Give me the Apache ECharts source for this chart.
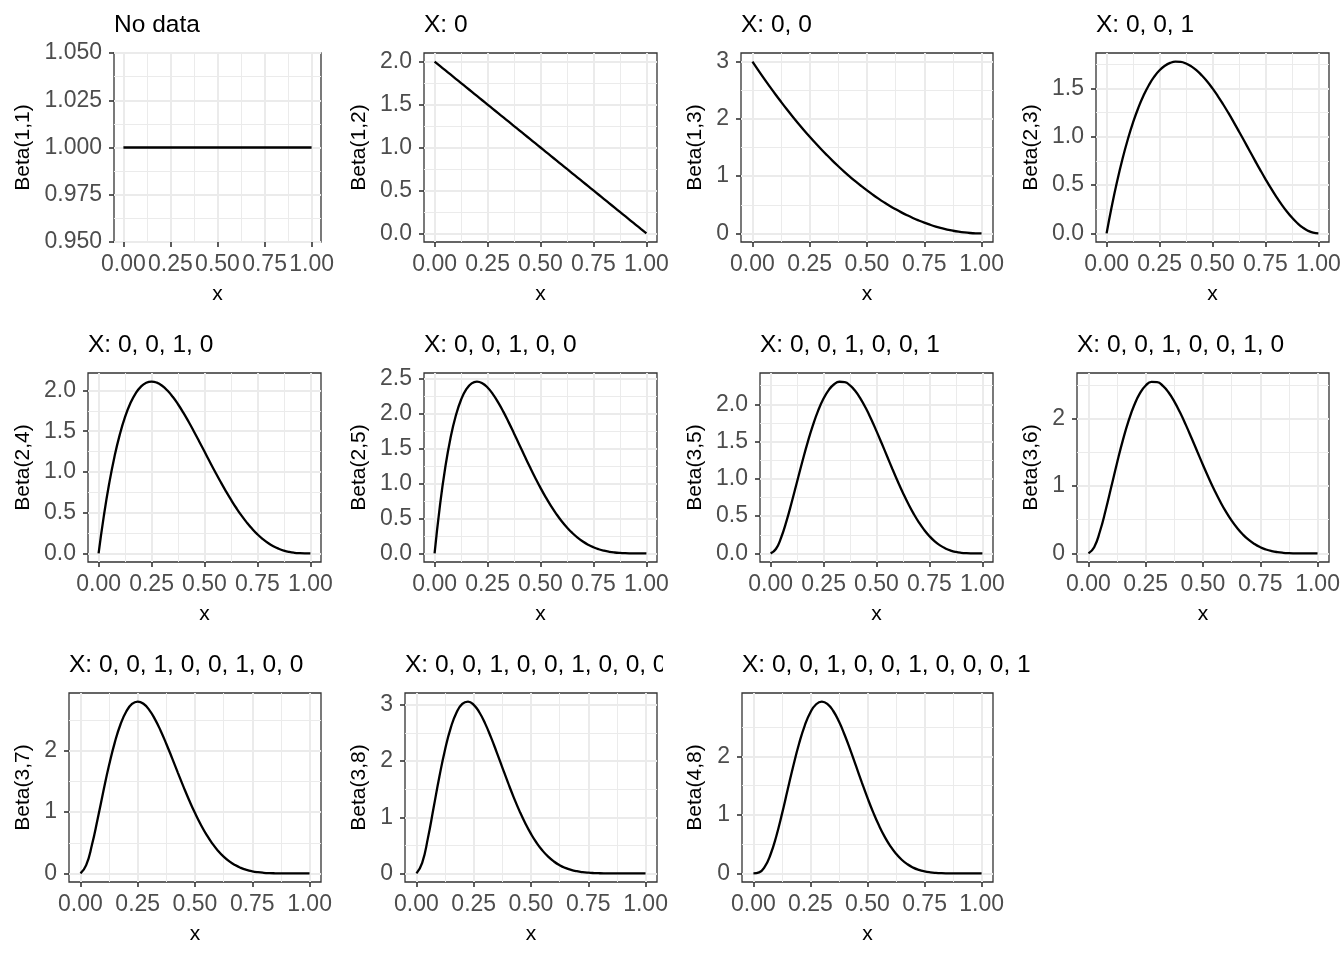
<!DOCTYPE html>
<html>
<head>
<meta charset="utf-8">
<script src="https://cdn.jsdelivr.net/npm/echarts@6/dist/echarts.min.js"></script>
<style>
  html, body { margin: 0; padding: 0; background: #ffffff; }
  #chart { width: 1344px; height: 960px; }
</style>
</head>
<body>
<div id="chart"></div>
<script>
// x grid shared by every density curve (step 0.025)
var xs = [0, 0.025, 0.05, 0.075, 0.1, 0.125, 0.15, 0.175, 0.2, 0.225, 0.25, 0.275, 0.3, 0.325, 0.35, 0.375, 0.4, 0.425, 0.45, 0.475,
  0.5, 0.525, 0.55, 0.575, 0.6, 0.625, 0.65, 0.675, 0.7, 0.725, 0.75, 0.775, 0.8, 0.825, 0.85, 0.875, 0.9, 0.925, 0.95, 0.975, 1];

// density values
var beta11 = [1, 1, 1, 1, 1, 1, 1, 1, 1, 1, 1, 1, 1, 1, 1, 1, 1, 1, 1, 1, 1, 1, 1, 1, 1, 1, 1, 1, 1, 1, 1, 1, 1, 1, 1, 1, 1, 1, 1, 1, 1];
var beta12 = [2, 1.95, 1.9, 1.85, 1.8, 1.75, 1.7, 1.65, 1.6, 1.55, 1.5, 1.45, 1.4, 1.35, 1.3, 1.25, 1.2, 1.15, 1.1, 1.05,
  1, 0.95, 0.9, 0.85, 0.8, 0.75, 0.7, 0.65, 0.6, 0.55, 0.5, 0.45, 0.4, 0.35, 0.3, 0.25, 0.2, 0.15, 0.1, 0.05, 0];
var beta13 = [3, 2.8519, 2.7075, 2.5669, 2.43, 2.2969, 2.1675, 2.0419, 1.92, 1.8019, 1.6875, 1.5769, 1.47, 1.3669, 1.2675, 1.1719, 1.08, 0.9919, 0.9075, 0.8269,
  0.75, 0.6769, 0.6075, 0.5419, 0.48, 0.4219, 0.3675, 0.3169, 0.27, 0.2269, 0.1875, 0.1519, 0.12, 0.0919, 0.0675, 0.0469, 0.03, 0.0169, 0.0075, 0.0019, 0];
var beta23 = [0, 0.2852, 0.5415, 0.7701, 0.972, 1.1484, 1.3005, 1.4293, 1.536, 1.6217, 1.6875, 1.7346, 1.764, 1.7769, 1.7745, 1.7578, 1.728, 1.6862, 1.6335, 1.5711,
  1.5, 1.4214, 1.3365, 1.2463, 1.152, 1.0547, 0.9555, 0.8556, 0.756, 0.6579, 0.5625, 0.4708, 0.384, 0.3032, 0.2295, 0.1641, 0.108, 0.0624, 0.0285, 0.0073, 0];
var beta24 = [0, 0.4634, 0.8574, 1.1872, 1.458, 1.6748, 1.8424, 1.9653, 2.048, 2.0947, 2.1094, 2.0959, 2.058, 1.9991, 1.9224, 1.8311, 1.728, 1.6159, 1.4974, 1.3747,
  1.25, 1.1253, 1.0024, 0.8828, 0.768, 0.6592, 0.5574, 0.4634, 0.378, 0.3016, 0.2344, 0.1766, 0.128, 0.0884, 0.0574, 0.0342, 0.018, 0.0078, 0.0024, 0.0003, 0];
var beta25 = [0, 0.6778, 1.2218, 1.6472, 1.9683, 2.1982, 2.349, 2.4321, 2.4576, 2.4351, 2.373, 2.2793, 2.1609, 2.024, 1.8743, 1.7166, 1.5552, 1.3937, 1.2353, 1.0826,
  0.9375, 0.8018, 0.6766, 0.5628, 0.4608, 0.3708, 0.2926, 0.2259, 0.1701, 0.1244, 0.0879, 0.0596, 0.0384, 0.0232, 0.0129, 0.0064, 0.0027, 0.0009, 0.0002, 0, 0];
var beta35 = [0, 0.0593, 0.2138, 0.4324, 0.6889, 0.9617, 1.2332, 1.4896, 1.7203, 1.9176, 2.0764, 2.1939, 2.2689, 2.3023, 2.296, 2.253, 2.1773, 2.0732, 1.9457, 1.7998,
  1.6406, 1.4733, 1.3025, 1.1326, 0.9677, 0.8111, 0.6657, 0.5337, 0.4167, 0.3156, 0.2307, 0.1616, 0.1075, 0.067, 0.0384, 0.0196, 0.0085, 0.0028, 0.0006, 0, 0];
var beta36 = [0, 0.0925, 0.325, 0.6399, 0.992, 1.3464, 1.6772, 1.9663, 2.202, 2.3778, 2.4917, 2.5449, 2.5412, 2.4865, 2.3879, 2.253, 2.0902, 1.9073, 1.7122, 1.5118,
  1.3125, 1.1197, 0.9378, 0.7702, 0.6193, 0.4867, 0.3728, 0.2776, 0.2, 0.1389, 0.0923, 0.0582, 0.0344, 0.0188, 0.0092, 0.0039, 0.0014, 0.0003, 0.0001, 0, 0];
var beta37 = [0, 0.1353, 0.4631, 0.8879, 1.3392, 1.7671, 2.1384, 2.4334, 2.6424, 2.7642, 2.8032, 2.7675, 2.6683, 2.5176, 2.3282, 2.1123, 1.8812, 1.6451, 1.4126, 1.1905,
  0.9844, 0.7978, 0.633, 0.491, 0.3716, 0.2738, 0.1957, 0.1353, 0.09, 0.0574, 0.0346, 0.0197, 0.0103, 0.0049, 0.0021, 0.0007, 0.0002, 0, 0, 0, 0];
var beta38 = [0, 0.1885, 0.6285, 1.1733, 1.7219, 2.2089, 2.5967, 2.8678, 3.0199, 3.0604, 3.0034, 2.8664, 2.6683, 2.4277, 2.1619, 1.8859, 1.6125, 1.3513, 1.1098, 0.8929,
  0.7031, 0.5414, 0.4069, 0.298, 0.2123, 0.1467, 0.0979, 0.0628, 0.0386, 0.0225, 0.0124, 0.0063, 0.0029, 0.0012, 0.0004, 0.0001, 0, 0, 0, 0, 0];
var beta48 = [0, 0.0173, 0.1152, 0.3227, 0.6314, 1.0124, 1.4282, 1.8402, 2.2146, 2.5248, 2.7531, 2.8903, 2.9351, 2.893, 2.7744, 2.5932, 2.3649, 2.1058, 1.8312, 1.5551,
  1.2891, 1.0422, 0.8207, 0.6284, 0.4671, 0.3361, 0.2332, 0.1555, 0.099, 0.0599, 0.034, 0.0179, 0.0087, 0.0037, 0.0014, 0.0005, 0.0001, 0, 0, 0, 0];

var panelTitles = ['No data', 'X: 0', 'X: 0, 0', 'X: 0, 0, 1', 'X: 0, 0, 1, 0', 'X: 0, 0, 1, 0, 0',
  'X: 0, 0, 1, 0, 0, 1', 'X: 0, 0, 1, 0, 0, 1, 0', 'X: 0, 0, 1, 0, 0, 1, 0, 0',
  'X: 0, 0, 1, 0, 0, 1, 0, 0, 0', 'X: 0, 0, 1, 0, 0, 1, 0, 0, 0, 1'];
var yNames = ['Beta(1,1)', 'Beta(1,2)', 'Beta(1,3)', 'Beta(2,3)', 'Beta(2,4)', 'Beta(2,5)',
  'Beta(3,5)', 'Beta(3,6)', 'Beta(3,7)', 'Beta(3,8)', 'Beta(4,8)'];
var panelData = [beta11, beta12, beta13, beta23, beta24, beta25, beta35, beta36, beta37, beta38, beta48];

var xTickLabels = ['0.00', '0.25', '0.50', '0.75', '1.00'];
var yTickLabels = [
  ['0.950', '0.975', '1.000', '1.025', '1.050'],
  ['0.0', '0.5', '1.0', '1.5', '2.0'],
  ['0', '1', '2', '3'],
  ['0.0', '0.5', '1.0', '1.5'],
  ['0.0', '0.5', '1.0', '1.5', '2.0'],
  ['0.0', '0.5', '1.0', '1.5', '2.0', '2.5'],
  ['0.0', '0.5', '1.0', '1.5', '2.0'],
  ['0', '1', '2'],
  ['0', '1', '2'],
  ['0', '1', '2', '3'],
  ['0', '1', '2']
];
// axis limits as drawn (curve range plus ggplot's 5% padding)
var yLimits = [[0.95, 1.05], [-0.1, 2.1], [-0.15, 3.15], [-0.0889, 1.8667], [-0.1055, 2.2148],
  [-0.1229, 2.5805], [-0.1152, 2.4197], [-0.1275, 2.6774], [-0.1402, 2.9434], [-0.1531, 3.2141], [-0.1468, 3.0819]];
var xLimits = [-0.05, 1.05];

// layout of the 4 x 3 panel table
var cellW = 336, cellH = 320;
var plotLeft = [114, 88, 69, 88, 88, 88, 88, 69, 69, 69, 70];
var plotRight = 321, plotTop = 53, plotH = 189;
var font = 'Liberation Sans';

function labelFor(list) {
  return function (v) {
    for (var k = 0; k < list.length; k++) {
      if (Math.abs(Number(list[k]) - v) < 1e-9) return list[k];
    }
    return '';
  };
}

// ggplot minor breaks: halfway between majors, plus one beyond each end if inside the limits
function minorsOf(majors, lim) {
  var out = [];
  var step = majors[1] - majors[0];
  var first = majors[0] - step / 2, last = majors[majors.length - 1] + step / 2;
  if (first > lim[0]) out.push(first);
  for (var k = 0; k < majors.length - 1; k++) out.push((majors[k] + majors[k + 1]) / 2);
  if (last < lim[1]) out.push(last);
  return out;
}

var grids = [], xAxes = [], yAxes = [], series = [], titles = [];
var xMajors = xTickLabels.map(Number);
var xMinors = minorsOf(xMajors, xLimits);

panelData.forEach(function (vals, i) {
  var cx = (i % 4) * cellW, cy = Math.floor(i / 4) * cellH;
  var L = plotLeft[i];
  var yMajors = yTickLabels[i].map(Number);
  var yMinors = minorsOf(yMajors, yLimits[i]);

  grids.push({
    left: cx + L, top: cy + plotTop, width: plotRight - L, height: plotH,
    show: true, backgroundColor: '#ffffff', borderColor: '#333333', borderWidth: 1.3,
    containLabel: false, outerBoundsMode: 'none'
  });

  // minor grid axis (no labels)
  xAxes.push({
    type: 'value', gridIndex: i, min: xLimits[0], max: xLimits[1], position: 'bottom',
    axisLine: { show: false, onZero: false }, axisLabel: { show: false },
    axisTick: { show: false, customValues: xMinors },
    splitLine: { show: true, lineStyle: { color: '#EBEBEB', width: 1 } }
  });
  // main axis
  xAxes.push({
    type: 'value', gridIndex: i, min: xLimits[0], max: xLimits[1], position: 'bottom',
    name: 'x', nameLocation: 'middle', nameGap: 42,
    nameTextStyle: { fontFamily: font, fontSize: 21, color: '#000000' },
    axisLine: { show: false, onZero: false },
    axisTick: { show: true, length: 5, customValues: xMajors, lineStyle: { color: '#333333', width: 1.6 } },
    axisLabel: { show: true, margin: 11, customValues: xMajors, formatter: labelFor(xTickLabels),
      fontFamily: font, fontSize: 23, color: '#4D4D4D' },
    splitLine: { show: true, lineStyle: { color: '#EBEBEB', width: 2 } }
  });

  yAxes.push({
    type: 'value', gridIndex: i, min: yLimits[i][0], max: yLimits[i][1], position: 'left',
    axisLine: { show: false, onZero: false }, axisLabel: { show: false },
    axisTick: { show: false, customValues: yMinors },
    splitLine: { show: true, lineStyle: { color: '#EBEBEB', width: 1 } }
  });
  yAxes.push({
    type: 'value', gridIndex: i, min: yLimits[i][0], max: yLimits[i][1], position: 'left',
    name: yNames[i], nameLocation: 'middle', nameGap: L - 34,
    nameTextStyle: { fontFamily: font, fontSize: 21, color: '#000000' },
    axisLine: { show: false, onZero: false },
    axisTick: { show: true, length: 5, customValues: yMajors, lineStyle: { color: '#333333', width: 1.6 } },
    axisLabel: { show: true, margin: 12, customValues: yMajors, formatter: labelFor(yTickLabels[i]),
      fontFamily: font, fontSize: 23, color: '#4D4D4D' },
    splitLine: { show: true, lineStyle: { color: '#EBEBEB', width: 2 } }
  });

  series.push({
    type: 'line', xAxisIndex: 2 * i + 1, yAxisIndex: 2 * i + 1,
    data: xs.map(function (x, j) { return [x, vals[j]]; }),
    showSymbol: false, smooth: 0.5, silent: true,
    lineStyle: { color: '#000000', width: 2.3 }
  });

  titles.push({
    text: panelTitles[i], left: cx + L, top: cy + 13, padding: 0,
    textStyle: { fontFamily: font, fontSize: 24.5, fontWeight: 'normal', color: '#000000' }
  });
});

var chart = echarts.init(document.getElementById('chart'), null, { renderer: 'canvas' });
chart.setOption({
  animation: false,
  backgroundColor: '#ffffff',
  title: titles,
  grid: grids,
  xAxis: xAxes,
  yAxis: yAxes,
  series: series,
  // the long title of panel 10 is cut off at its right end, as in the original layout
  graphic: [{
    type: 'rect', z: 100, silent: true,
    shape: { x: 2 * cellW - 9, y: 2 * cellH + 4, width: 66, height: 44 },
    style: { fill: '#ffffff' }
  }]
});
</script>
</body>
</html>
